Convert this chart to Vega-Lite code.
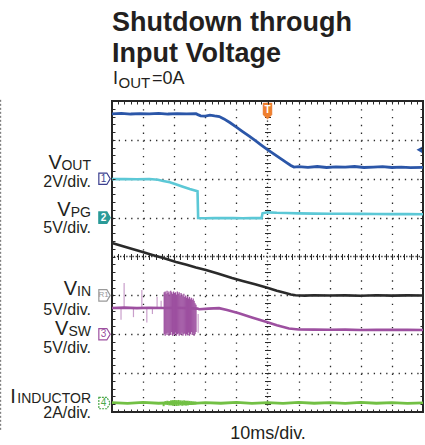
{
  "$schema": "https://vega.github.io/schema/vega-lite/v6.json",
  "width": 311,
  "height": 311,
  "autosize": {"type": "none"},
  "padding": {"left": 112, "top": 101, "right": 2, "bottom": 33},
  "background": "white",
  "config": {
    "view": {"stroke": "#262626", "strokeWidth": 2},
    "font": "Liberation Sans",
    "text": {"font": "Liberation Sans", "color": "#231f20"}
  },
  "datasets": {
    "vout": [
      {"t":0,"v":3.34},{"t":3,"v":3.36},{"t":6,"v":3.33},{"t":9,"v":3.35},{"t":12,"v":3.34},{"t":15,"v":3.36},{"t":18,"v":3.33},{"t":21,"v":3.35},{"t":24,"v":3.34},{"t":27,"v":3.35},{"t":27.6,"v":3.3},{"t":28.5,"v":3.24},{"t":30,"v":3.22},{"t":31.5,"v":3.27},{"t":33,"v":3.23},{"t":34.5,"v":3.2},{"t":36,"v":3.08},{"t":38,"v":2.88},{"t":40,"v":2.66},{"t":42,"v":2.43},{"t":44,"v":2.2},{"t":46,"v":1.97},{"t":48,"v":1.73},{"t":50,"v":1.5},{"t":52,"v":1.28},{"t":54,"v":1.06},{"t":56,"v":0.84},{"t":57.5,"v":0.68},{"t":58.5,"v":0.6},{"t":60,"v":0.62},{"t":63,"v":0.59},{"t":66,"v":0.63},{"t":69,"v":0.58},{"t":72,"v":0.61},{"t":75,"v":0.6},{"t":78,"v":0.63},{"t":81,"v":0.58},{"t":84,"v":0.6},{"t":87,"v":0.62},{"t":90,"v":0.58},{"t":93,"v":0.6},{"t":96,"v":0.57},{"t":100,"v":0.59}
    ],
    "vpg": [
      {"t":0,"v":4.95},{"t":4,"v":4.97},{"t":8,"v":4.94},{"t":12,"v":4.96},{"t":14.8,"v":4.88},{"t":16.5,"v":4.72},{"t":18.6,"v":4.54},{"t":20.5,"v":4.28},{"t":22.8,"v":3.97},{"t":25,"v":3.68},{"t":27.5,"v":3.38},{"t":27.7,"v":-0.05},{"t":30,"v":-0.08},{"t":33,"v":-0.04},{"t":36,"v":-0.07},{"t":39,"v":-0.05},{"t":42,"v":-0.08},{"t":45,"v":-0.05},{"t":48.1,"v":-0.06},{"t":48.4,"v":0.55},{"t":50,"v":0.68},{"t":53,"v":0.62},{"t":56,"v":0.6},{"t":60,"v":0.55},{"t":65,"v":0.52},{"t":70,"v":0.5},{"t":75,"v":0.5},{"t":80,"v":0.48},{"t":85,"v":0.46},{"t":90,"v":0.45},{"t":95,"v":0.45},{"t":100,"v":0.44}
    ],
    "vin": [
      {"t":0,"v":6.74},{"t":3,"v":6.38},{"t":6,"v":6.02},{"t":9.6,"v":5.62},{"t":13,"v":5.2},{"t":16.5,"v":4.8},{"t":20.6,"v":4.3},{"t":24,"v":3.95},{"t":27,"v":3.6},{"t":30.2,"v":3.27},{"t":34,"v":2.8},{"t":38.6,"v":2.24},{"t":42,"v":1.86},{"t":46,"v":1.42},{"t":50.2,"v":0.95},{"t":53,"v":0.6},{"t":55.5,"v":0.33},{"t":57.5,"v":0.12},{"t":59,"v":0.02},{"t":62,"v":-0.03},{"t":65,"v":0.02},{"t":70,"v":-0.02},{"t":75,"v":0.0},{"t":80,"v":-0.04},{"t":85,"v":0.01},{"t":90,"v":-0.03},{"t":95,"v":0.0},{"t":100,"v":-0.02}
    ],
    "vsw": [
      {"t":0,"v":3.38},{"t":4,"v":3.42},{"t":8,"v":3.36},{"t":12,"v":3.4},{"t":16.5,"v":3.38},{"t":20,"v":3.4},{"t":24,"v":3.36},{"t":27.5,"v":3.3},{"t":28,"v":3.22},{"t":31,"v":3.3},{"t":34.4,"v":3.36},{"t":37,"v":3.12},{"t":40.8,"v":2.7},{"t":45,"v":2.15},{"t":49.5,"v":1.6},{"t":53,"v":1.15},{"t":56.9,"v":0.75},{"t":60,"v":0.62},{"t":65,"v":0.6},{"t":70,"v":0.58},{"t":75,"v":0.6},{"t":80,"v":0.55},{"t":85,"v":0.58},{"t":90,"v":0.56},{"t":95,"v":0.58},{"t":100,"v":0.55}
    ],
    "vswBurst": [
      {"t":16.8,"lo":0.0,"hi":5.4},{"t":17.1,"lo":-0.2,"hi":5.5},{"t":17.4,"lo":0.1,"hi":5.2},{"t":17.7,"lo":-0.1,"hi":5.6},{"t":18.0,"lo":0.2,"hi":5.3},{"t":18.3,"lo":-0.2,"hi":5.5},{"t":18.6,"lo":0.0,"hi":5.1},{"t":18.9,"lo":-0.1,"hi":5.6},{"t":19.2,"lo":0.3,"hi":5.4},{"t":19.5,"lo":-0.2,"hi":5.2},{"t":19.8,"lo":0.0,"hi":5.5},{"t":20.1,"lo":-0.1,"hi":5.3},{"t":20.4,"lo":0.2,"hi":5.4},{"t":20.7,"lo":-0.2,"hi":5.1},{"t":21.0,"lo":0.0,"hi":5.5},{"t":21.3,"lo":0.1,"hi":5.2},{"t":21.6,"lo":-0.2,"hi":5.4},{"t":21.9,"lo":0.0,"hi":5.0},{"t":22.2,"lo":-0.1,"hi":5.3},{"t":22.5,"lo":0.2,"hi":5.1},{"t":22.8,"lo":-0.2,"hi":4.9},{"t":23.1,"lo":0.0,"hi":5.2},{"t":23.4,"lo":0.1,"hi":4.8},{"t":23.7,"lo":-0.2,"hi":5.0},{"t":24.0,"lo":0.0,"hi":4.7},{"t":24.3,"lo":-0.1,"hi":4.9},{"t":24.6,"lo":0.2,"hi":4.6},{"t":24.9,"lo":-0.2,"hi":4.8},{"t":25.2,"lo":0.0,"hi":4.5},{"t":25.5,"lo":0.3,"hi":4.7},{"t":25.8,"lo":-0.1,"hi":4.4},{"t":26.1,"lo":0.1,"hi":4.6},{"t":26.4,"lo":-0.2,"hi":4.3},{"t":26.7,"lo":0.0,"hi":4.0},{"t":27.0,"lo":0.3,"hi":3.8}
    ],
    "vswGlitch": [
      {"t":2.9,"lo":1.85,"hi":3.4},{"t":3.9,"lo":3.4,"hi":6.6},{"t":6.9,"lo":2.2,"hi":3.4},{"t":9.6,"lo":3.4,"hi":5.7},{"t":11.2,"lo":1.5,"hi":3.4},{"t":13.0,"lo":2.6,"hi":3.4},{"t":14.5,"lo":3.4,"hi":4.8},{"t":15.8,"lo":3.4,"hi":4.3},{"t":27.7,"lo":0.2,"hi":2.6}
    ],
    "iind": [
      {"t":0,"v":0.02},{"t":5,"v":-0.02},{"t":10,"v":0.03},{"t":15,"v":-0.01},{"t":20,"v":0.02},{"t":25,"v":-0.03},{"t":30,"v":0.02},{"t":35,"v":-0.01},{"t":40,"v":0.03},{"t":45,"v":-0.02},{"t":50,"v":0.02},{"t":55,"v":-0.02},{"t":60,"v":0.03},{"t":65,"v":-0.01},{"t":70,"v":0.02},{"t":75,"v":-0.02},{"t":80,"v":0.03},{"t":85,"v":-0.01},{"t":90,"v":0.02},{"t":95,"v":-0.02},{"t":100,"v":0.01}
    ],
    "iBurst": [
      {"t":16.6,"lo":-0.16,"hi":0.04},{"t":17.2,"lo":-0.08,"hi":0.1},{"t":17.8,"lo":-0.1,"hi":0.12},{"t":18.4,"lo":-0.12,"hi":0.1},{"t":19.0,"lo":-0.12,"hi":0.14},{"t":19.6,"lo":-0.14,"hi":0.15},{"t":20.2,"lo":-0.13,"hi":0.16},{"t":20.8,"lo":-0.15,"hi":0.15},{"t":21.4,"lo":-0.14,"hi":0.16},{"t":22.0,"lo":-0.12,"hi":0.14},{"t":22.6,"lo":-0.14,"hi":0.13},{"t":23.2,"lo":-0.12,"hi":0.14},{"t":23.8,"lo":-0.13,"hi":0.12},{"t":24.4,"lo":-0.12,"hi":0.12},{"t":25.0,"lo":-0.1,"hi":0.11},{"t":25.6,"lo":-0.1,"hi":0.1},{"t":26.2,"lo":-0.08,"hi":0.09},{"t":26.8,"lo":-0.07,"hi":0.08}
    ],
    "titleText": [
      {"t":0,"d":9.8,"label":"Shutdown through"},
      {"t":0,"d":9.003,"label":"Input Voltage"}
    ],
    "headMain": [
      {"t":0.3,"d":8.437,"label":"I"},
      {"t":12.86,"d":8.437,"label":"=0A"}
    ],
    "headSub": [
      {"t":2.09,"d":8.334,"label":"OUT"}
    ],
    "leftMain": [
      {"t":-16.1,"d":6.251,"label":"V"},
      {"t":-13.3,"d":5.042,"label":"V"},
      {"t":-11.25,"d":3.01,"label":"V"},
      {"t":-14.0,"d":1.981,"label":"V"},
      {"t":-30.9,"d":0.2315,"label":"I"}
    ],
    "leftSub": [
      {"t":-6.75,"d":6.226,"label":"OUT"},
      {"t":-6.75,"d":5.016,"label":"PG"},
      {"t":-6.75,"d":2.981,"label":"IN"},
      {"t":-6.75,"d":1.951,"label":"SW"},
      {"t":-6.75,"d":0.226,"label":"INDUCTOR"}
    ],
    "leftScale": [
      {"t":-6.75,"d":5.775,"label":"2V/div."},
      {"t":-6.75,"d":4.592,"label":"5V/div."},
      {"t":-6.75,"d":2.508,"label":"5V/div."},
      {"t":-6.75,"d":1.505,"label":"5V/div."},
      {"t":-6.75,"d":-0.167,"label":"2A/div."}
    ]
  },
  "resolve": {"scale": {"y": "independent"}, "axis": {"x": "independent", "y": "independent"}},
  "layer": [
    {
      "resolve": {"axis": {"x": "independent", "y": "independent"}},
      "layer": [
        {
          "data": {"values": [{}]},
          "mark": {"type": "point", "opacity": 0},
          "encoding": {
            "x": {"datum": 50, "type": "quantitative", "scale": {"domain": [0, 100], "nice": false, "zero": false},
              "axis": {"orient": "bottom", "values": [10,20,30,40,60,70,80,90], "grid": true, "gridColor": "#2a2a2a", "gridWidth": 1.3, "gridDash": [1.3, 6.475], "ticks": false, "labels": false, "domain": false, "zindex": 0,
                "title": "10ms/div.", "titleFont": "Liberation Sans", "titleFontSize": 18, "titleFontWeight": "normal", "titleColor": "#231f20", "titlePadding": 12.5}},
            "y": {"datum": 4, "type": "quantitative", "scale": {"domain": [0, 8], "nice": false, "zero": false},
              "axis": {"orient": "left", "values": [1,2,3,5,6,7], "grid": true, "gridColor": "#2a2a2a", "gridWidth": 1.3, "gridDash": [1.3, 4.92], "ticks": false, "labels": false, "domain": false, "title": null, "zindex": 0}}
          }
        },
        {
          "data": {"values": [{}]},
          "mark": {"type": "point", "opacity": 0},
          "encoding": {
            "x": {"datum": 50, "type": "quantitative", "scale": {"domain": [0, 100], "nice": false, "zero": false},
              "axis": {"orient": "top", "offset": -311, "values": [2,4,6,8,10,12,14,16,18,20,22,24,26,28,30,32,34,36,38,40,42,44,46,48,50,52,54,56,58,60,62,64,66,68,70,72,74,76,78,80,82,84,86,88,90,92,94,96,98], "ticks": true, "tickSize": 3, "tickColor": "#2a2a2a", "tickWidth": 1, "labels": false, "domain": false, "grid": false, "title": null, "zindex": 1}},
            "y": {"datum": 4, "type": "quantitative", "scale": {"domain": [0, 8], "nice": false, "zero": false},
              "axis": {"orient": "right", "offset": -311, "values": [0.2,0.4,0.6,0.8,1,1.2,1.4,1.6,1.8,2,2.2,2.4,2.6,2.8,3,3.2,3.4,3.6,3.8,4,4.2,4.4,4.6,4.8,5,5.2,5.4,5.6,5.8,6,6.2,6.4,6.6,6.8,7,7.2,7.4,7.6,7.8], "ticks": true, "tickSize": 3, "tickColor": "#2a2a2a", "tickWidth": 1, "labels": false, "domain": false, "grid": false, "title": null, "zindex": 1}}
          }
        },
        {
          "data": {"values": [{}]},
          "mark": {"type": "point", "opacity": 0},
          "encoding": {
            "x": {"datum": 50, "type": "quantitative", "scale": {"domain": [0, 100], "nice": false, "zero": false},
              "axis": {"orient": "bottom", "offset": -311, "values": [2,4,6,8,10,12,14,16,18,20,22,24,26,28,30,32,34,36,38,40,42,44,46,48,50,52,54,56,58,60,62,64,66,68,70,72,74,76,78,80,82,84,86,88,90,92,94,96,98], "ticks": true, "tickSize": 3, "tickColor": "#2a2a2a", "tickWidth": 1, "labels": false, "domain": false, "grid": false, "title": null, "zindex": 1}},
            "y": {"datum": 4, "type": "quantitative", "scale": {"domain": [0, 8], "nice": false, "zero": false},
              "axis": {"orient": "left", "offset": -311, "values": [0.2,0.4,0.6,0.8,1,1.2,1.4,1.6,1.8,2,2.2,2.4,2.6,2.8,3,3.2,3.4,3.6,3.8,4,4.2,4.4,4.6,4.8,5,5.2,5.4,5.6,5.8,6,6.2,6.4,6.6,6.8,7,7.2,7.4,7.6,7.8], "ticks": true, "tickSize": 3, "tickColor": "#2a2a2a", "tickWidth": 1, "labels": false, "domain": false, "grid": false, "title": null, "zindex": 1}}
          }
        },
        {
          "data": {"values": [{}]},
          "mark": {"type": "point", "opacity": 0},
          "encoding": {
            "x": {"datum": 50, "type": "quantitative", "scale": {"domain": [0, 100], "nice": false, "zero": false},
              "axis": {"orient": "bottom", "offset": -155.5, "values": [2,4,6,8,10,12,14,16,18,20,22,24,26,28,30,32,34,36,38,40,42,44,46,48,52,54,56,58,60,62,64,66,68,70,72,74,76,78,80,82,84,86,88,90,92,94,96,98], "ticks": true, "tickSize": 3, "tickColor": "#2a2a2a", "tickWidth": 1, "labels": false, "domain": false, "grid": false, "title": null, "zindex": 0}},
            "y": {"datum": 4, "type": "quantitative", "scale": {"domain": [0, 8], "nice": false, "zero": false},
              "axis": {"orient": "left", "offset": -155.5, "values": [0.2,0.4,0.6,0.8,1,1.2,1.4,1.6,1.8,2,2.2,2.4,2.6,2.8,3,3.2,3.4,3.6,3.8,4.2,4.4,4.6,4.8,5,5.2,5.4,5.6,5.8,6,6.2,6.4,6.6,6.8,7,7.2,7.4,7.6,7.8], "ticks": true, "tickSize": 3, "tickColor": "#2a2a2a", "tickWidth": 1, "labels": false, "domain": false, "grid": false, "title": null, "zindex": 0}}
          }
        },
        {
          "data": {"values": [{}]},
          "mark": {"type": "point", "opacity": 0},
          "encoding": {
            "x": {"datum": 50, "type": "quantitative", "scale": {"domain": [0, 100], "nice": false, "zero": false},
              "axis": {"orient": "top", "offset": -155.5, "values": [2,4,6,8,10,12,14,16,18,20,22,24,26,28,30,32,34,36,38,40,42,44,46,48,52,54,56,58,60,62,64,66,68,70,72,74,76,78,80,82,84,86,88,90,92,94,96,98], "ticks": true, "tickSize": 3, "tickColor": "#2a2a2a", "tickWidth": 1, "labels": false, "domain": false, "grid": false, "title": null, "zindex": 0}},
            "y": {"datum": 4, "type": "quantitative", "scale": {"domain": [0, 8], "nice": false, "zero": false},
              "axis": {"orient": "right", "offset": -155.5, "values": [0.2,0.4,0.6,0.8,1,1.2,1.4,1.6,1.8,2,2.2,2.4,2.6,2.8,3,3.2,3.4,3.6,3.8,4.2,4.4,4.6,4.8,5,5.2,5.4,5.6,5.8,6,6.2,6.4,6.6,6.8,7,7.2,7.4,7.6,7.8], "ticks": true, "tickSize": 3, "tickColor": "#2a2a2a", "tickWidth": 1, "labels": false, "domain": false, "grid": false, "title": null, "zindex": 0}}
          }
        },
        {
          "data": {"values": [{}]},
          "mark": {"type": "rule", "color": "#2a2a2a", "strokeWidth": 1.3, "strokeDash": [1.3, 2.5875]},
          "encoding": {"x": {"datum": 50, "type": "quantitative", "scale": {"domain": [0, 100], "nice": false, "zero": false}, "axis": null}}
        },
        {
          "data": {"values": [{}]},
          "mark": {"type": "rule", "color": "#2a2a2a", "strokeWidth": 1.3, "strokeDash": [1.3, 1.81]},
          "encoding": {"y": {"datum": 4, "type": "quantitative", "scale": {"domain": [0, 8], "nice": false, "zero": false}, "axis": null}}
        },
        {
          "data": {"values": [{}]},
          "mark": {"type": "rule", "color": "#666666", "strokeWidth": 1, "strokeDash": [2, 2]},
          "encoding": {
            "x": {"datum": -35.8, "type": "quantitative", "scale": {"domain": [0, 100], "nice": false, "zero": false}, "axis": null},
            "y": {"datum": 8.03, "type": "quantitative", "scale": {"domain": [0, 8], "nice": false, "zero": false}, "axis": null},
            "y2": {"datum": -0.5}
          }
        },
        {
          "data": {"name": "titleText"},
          "mark": {"type": "text", "align": "left", "baseline": "alphabetic", "fontSize": 27, "fontWeight": "bold", "font": "Liberation Sans", "color": "#231f20"},
          "encoding": {
            "x": {"field": "t", "type": "quantitative", "scale": {"domain": [0, 100], "nice": false, "zero": false}, "axis": null},
            "y": {"field": "d", "type": "quantitative", "scale": {"domain": [0, 8], "nice": false, "zero": false}, "axis": null},
            "text": {"field": "label"}
          }
        },
        {
          "data": {"name": "headMain"},
          "mark": {"type": "text", "align": "left", "baseline": "alphabetic", "fontSize": 18, "font": "Liberation Sans", "color": "#231f20"},
          "encoding": {
            "x": {"field": "t", "type": "quantitative", "scale": {"domain": [0, 100], "nice": false, "zero": false}, "axis": null},
            "y": {"field": "d", "type": "quantitative", "scale": {"domain": [0, 8], "nice": false, "zero": false}, "axis": null},
            "text": {"field": "label"}
          }
        },
        {
          "data": {"name": "headSub"},
          "mark": {"type": "text", "align": "left", "baseline": "alphabetic", "fontSize": 15, "font": "Liberation Sans", "color": "#231f20"},
          "encoding": {
            "x": {"field": "t", "type": "quantitative", "scale": {"domain": [0, 100], "nice": false, "zero": false}, "axis": null},
            "y": {"field": "d", "type": "quantitative", "scale": {"domain": [0, 8], "nice": false, "zero": false}, "axis": null},
            "text": {"field": "label"}
          }
        },
        {
          "data": {"name": "leftMain"},
          "mark": {"type": "text", "align": "right", "baseline": "alphabetic", "fontSize": 20, "font": "Liberation Sans", "color": "#231f20"},
          "encoding": {
            "x": {"field": "t", "type": "quantitative", "scale": {"domain": [0, 100], "nice": false, "zero": false}, "axis": null},
            "y": {"field": "d", "type": "quantitative", "scale": {"domain": [0, 8], "nice": false, "zero": false}, "axis": null},
            "text": {"field": "label"}
          }
        },
        {
          "data": {"name": "leftSub"},
          "mark": {"type": "text", "align": "right", "baseline": "alphabetic", "fontSize": 14, "font": "Liberation Sans", "color": "#231f20"},
          "encoding": {
            "x": {"field": "t", "type": "quantitative", "scale": {"domain": [0, 100], "nice": false, "zero": false}, "axis": null},
            "y": {"field": "d", "type": "quantitative", "scale": {"domain": [0, 8], "nice": false, "zero": false}, "axis": null},
            "text": {"field": "label"}
          }
        },
        {
          "data": {"name": "leftScale"},
          "mark": {"type": "text", "align": "right", "baseline": "alphabetic", "fontSize": 16, "font": "Liberation Sans", "color": "#231f20"},
          "encoding": {
            "x": {"field": "t", "type": "quantitative", "scale": {"domain": [0, 100], "nice": false, "zero": false}, "axis": null},
            "y": {"field": "d", "type": "quantitative", "scale": {"domain": [0, 8], "nice": false, "zero": false}, "axis": null},
            "text": {"field": "label"}
          }
        },
        {
          "data": {"values": [{}]},
          "mark": {"type": "point", "shape": "M-0.55,-1L0.55,-1L0.55,0.45L0,1L-0.55,0.45Z", "size": 256, "filled": true, "fill": "#f0802e", "stroke": "#e06a20", "strokeWidth": 0.5, "opacity": 1},
          "encoding": {
            "x": {"datum": 50, "type": "quantitative", "scale": {"domain": [0, 100], "nice": false, "zero": false}, "axis": null},
            "y": {"datum": 7.74, "type": "quantitative", "scale": {"domain": [0, 8], "nice": false, "zero": false}, "axis": null}
          }
        },
        {
          "data": {"values": [{}]},
          "mark": {"type": "text", "text": "T", "fontSize": 10, "fontWeight": "bold", "color": "white", "align": "center", "baseline": "middle", "dy": -1},
          "encoding": {
            "x": {"datum": 50, "type": "quantitative", "scale": {"domain": [0, 100], "nice": false, "zero": false}, "axis": null},
            "y": {"datum": 7.74, "type": "quantitative", "scale": {"domain": [0, 8], "nice": false, "zero": false}, "axis": null}
          }
        }
      ]
    },
    {
      "layer": [
        {
          "data": {"name": "vout"},
          "mark": {"type": "line", "color": "#2b56a8", "strokeWidth": 2.8},
          "encoding": {
            "x": {"field": "t", "type": "quantitative", "scale": {"domain": [0, 100], "nice": false, "zero": false}, "axis": null},
            "y": {"field": "v", "type": "quantitative", "scale": {"domain": [-12, 4], "nice": false, "zero": false}, "axis": null}
          }
        },
        {
          "data": {"values": [{}]},
          "mark": {"type": "point", "shape": "M-1,-1L0.4,-1L1,0L0.4,1L-1,1Z", "size": 130, "filled": true, "fill": "white", "stroke": "#3b3f8f", "strokeWidth": 1.2, "opacity": 1},
          "encoding": {
            "x": {"datum": -2.4, "type": "quantitative", "scale": {"domain": [0, 100], "nice": false, "zero": false}, "axis": null},
            "y": {"datum": 0, "type": "quantitative", "scale": {"domain": [-12, 4], "nice": false, "zero": false}, "axis": null}
          }
        },
        {
          "data": {"values": [{}]},
          "mark": {"type": "text", "text": "1", "fontSize": 10, "color": "#3b3f8f", "align": "center", "baseline": "middle", "dx": -1},
          "encoding": {
            "x": {"datum": -2.4, "type": "quantitative", "scale": {"domain": [0, 100], "nice": false, "zero": false}, "axis": null},
            "y": {"datum": 0, "type": "quantitative", "scale": {"domain": [-12, 4], "nice": false, "zero": false}, "axis": null}
          }
        },
        {
          "data": {"values": [{}]},
          "mark": {"type": "point", "shape": "triangle-left", "size": 40, "filled": true, "color": "#2b56a8", "opacity": 1},
          "encoding": {
            "x": {"datum": 98.8, "type": "quantitative", "scale": {"domain": [0, 100], "nice": false, "zero": false}, "axis": null},
            "y": {"datum": 1.49, "type": "quantitative", "scale": {"domain": [-12, 4], "nice": false, "zero": false}, "axis": null}
          }
        }
      ]
    },
    {
      "layer": [
        {
          "data": {"name": "vpg"},
          "mark": {"type": "line", "color": "#5cc8d6", "strokeWidth": 2.6},
          "encoding": {
            "x": {"field": "t", "type": "quantitative", "scale": {"domain": [0, 100], "nice": false, "zero": false}, "axis": null},
            "y": {"field": "v", "type": "quantitative", "scale": {"domain": [-25, 15], "nice": false, "zero": false}, "axis": null}
          }
        },
        {
          "data": {"values": [{}]},
          "mark": {"type": "point", "shape": "M-1,-1L0.4,-1L1,0L0.4,1L-1,1Z", "size": 130, "filled": true, "fill": "#2a9a98", "stroke": "#2a9a98", "strokeWidth": 1.2, "opacity": 1},
          "encoding": {
            "x": {"datum": -2.4, "type": "quantitative", "scale": {"domain": [0, 100], "nice": false, "zero": false}, "axis": null},
            "y": {"datum": 0, "type": "quantitative", "scale": {"domain": [-25, 15], "nice": false, "zero": false}, "axis": null}
          }
        },
        {
          "data": {"values": [{}]},
          "mark": {"type": "text", "text": "2", "fontSize": 10, "fontWeight": "bold", "color": "white", "align": "center", "baseline": "middle", "dx": -1},
          "encoding": {
            "x": {"datum": -2.4, "type": "quantitative", "scale": {"domain": [0, 100], "nice": false, "zero": false}, "axis": null},
            "y": {"datum": 0, "type": "quantitative", "scale": {"domain": [-25, 15], "nice": false, "zero": false}, "axis": null}
          }
        }
      ]
    },
    {
      "layer": [
        {
          "data": {"name": "vin"},
          "mark": {"type": "line", "color": "#2a2a2a", "strokeWidth": 2.6},
          "encoding": {
            "x": {"field": "t", "type": "quantitative", "scale": {"domain": [0, 100], "nice": false, "zero": false}, "axis": null},
            "y": {"field": "v", "type": "quantitative", "scale": {"domain": [-15, 25], "nice": false, "zero": false}, "axis": null}
          }
        },
        {
          "data": {"values": [{}]},
          "mark": {"type": "point", "shape": "M-1,-1L0.4,-1L1,0L0.4,1L-1,1Z", "size": 130, "filled": true, "fill": "white", "stroke": "#9a9a9a", "strokeWidth": 1.2, "opacity": 1},
          "encoding": {
            "x": {"datum": -2.4, "type": "quantitative", "scale": {"domain": [0, 100], "nice": false, "zero": false}, "axis": null},
            "y": {"datum": 0, "type": "quantitative", "scale": {"domain": [-15, 25], "nice": false, "zero": false}, "axis": null}
          }
        },
        {
          "data": {"values": [{}]},
          "mark": {"type": "text", "text": "R1", "fontSize": 8, "color": "#9a9a9a", "align": "center", "baseline": "middle", "dx": -1},
          "encoding": {
            "x": {"datum": -2.4, "type": "quantitative", "scale": {"domain": [0, 100], "nice": false, "zero": false}, "axis": null},
            "y": {"datum": 0, "type": "quantitative", "scale": {"domain": [-15, 25], "nice": false, "zero": false}, "axis": null}
          }
        }
      ]
    },
    {
      "layer": [
        {
          "data": {"name": "vsw"},
          "mark": {"type": "line", "color": "#9d50a0", "strokeWidth": 2.6},
          "encoding": {
            "x": {"field": "t", "type": "quantitative", "scale": {"domain": [0, 100], "nice": false, "zero": false}, "axis": null},
            "y": {"field": "v", "type": "quantitative", "scale": {"domain": [-10, 30], "nice": false, "zero": false}, "axis": null}
          }
        },
        {
          "data": {"name": "vswGlitch"},
          "mark": {"type": "rule", "color": "#9d50a0", "strokeWidth": 1.2, "opacity": 0.55},
          "encoding": {
            "x": {"field": "t", "type": "quantitative", "scale": {"domain": [0, 100], "nice": false, "zero": false}, "axis": null},
            "y": {"field": "lo", "type": "quantitative", "scale": {"domain": [-10, 30], "nice": false, "zero": false}, "axis": null},
            "y2": {"field": "hi"}
          }
        },
        {
          "data": {"name": "vswBurst"},
          "mark": {"type": "rule", "color": "#9d50a0", "strokeWidth": 1.3},
          "encoding": {
            "x": {"field": "t", "type": "quantitative", "scale": {"domain": [0, 100], "nice": false, "zero": false}, "axis": null},
            "y": {"field": "lo", "type": "quantitative", "scale": {"domain": [-10, 30], "nice": false, "zero": false}, "axis": null},
            "y2": {"field": "hi"}
          }
        },
        {
          "data": {"values": [{}]},
          "mark": {"type": "point", "shape": "M-1,-1L0.4,-1L1,0L0.4,1L-1,1Z", "size": 130, "filled": true, "fill": "white", "stroke": "#9d50a0", "strokeWidth": 1.2, "opacity": 1},
          "encoding": {
            "x": {"datum": -2.4, "type": "quantitative", "scale": {"domain": [0, 100], "nice": false, "zero": false}, "axis": null},
            "y": {"datum": 0, "type": "quantitative", "scale": {"domain": [-10, 30], "nice": false, "zero": false}, "axis": null}
          }
        },
        {
          "data": {"values": [{}]},
          "mark": {"type": "text", "text": "3", "fontSize": 10, "color": "#9d50a0", "align": "center", "baseline": "middle", "dx": -1},
          "encoding": {
            "x": {"datum": -2.4, "type": "quantitative", "scale": {"domain": [0, 100], "nice": false, "zero": false}, "axis": null},
            "y": {"datum": 0, "type": "quantitative", "scale": {"domain": [-10, 30], "nice": false, "zero": false}, "axis": null}
          }
        }
      ]
    },
    {
      "layer": [
        {
          "data": {"name": "iind"},
          "mark": {"type": "line", "color": "#72c044", "strokeWidth": 2.8},
          "encoding": {
            "x": {"field": "t", "type": "quantitative", "scale": {"domain": [0, 100], "nice": false, "zero": false}, "axis": null},
            "y": {"field": "v", "type": "quantitative", "scale": {"domain": [-0.46, 15.54], "nice": false, "zero": false}, "axis": null}
          }
        },
        {
          "data": {"name": "iBurst"},
          "mark": {"type": "rule", "color": "#72c044", "strokeWidth": 2},
          "encoding": {
            "x": {"field": "t", "type": "quantitative", "scale": {"domain": [0, 100], "nice": false, "zero": false}, "axis": null},
            "y": {"field": "lo", "type": "quantitative", "scale": {"domain": [-0.46, 15.54], "nice": false, "zero": false}, "axis": null},
            "y2": {"field": "hi"}
          }
        },
        {
          "data": {"values": [{}]},
          "mark": {"type": "point", "shape": "M-1,-1L0.4,-1L1,0L0.4,1L-1,1Z", "size": 130, "filled": true, "fill": "white", "stroke": "#4aa84a", "strokeWidth": 1.2, "strokeDash": [2, 1], "opacity": 1},
          "encoding": {
            "x": {"datum": -2.4, "type": "quantitative", "scale": {"domain": [0, 100], "nice": false, "zero": false}, "axis": null},
            "y": {"datum": 0, "type": "quantitative", "scale": {"domain": [-0.46, 15.54], "nice": false, "zero": false}, "axis": null}
          }
        },
        {
          "data": {"values": [{}]},
          "mark": {"type": "text", "text": "4", "fontSize": 10, "color": "#4aa84a", "align": "center", "baseline": "middle", "dx": -1},
          "encoding": {
            "x": {"datum": -2.4, "type": "quantitative", "scale": {"domain": [0, 100], "nice": false, "zero": false}, "axis": null},
            "y": {"datum": 0, "type": "quantitative", "scale": {"domain": [-0.46, 15.54], "nice": false, "zero": false}, "axis": null}
          }
        }
      ]
    }
  ]
}
